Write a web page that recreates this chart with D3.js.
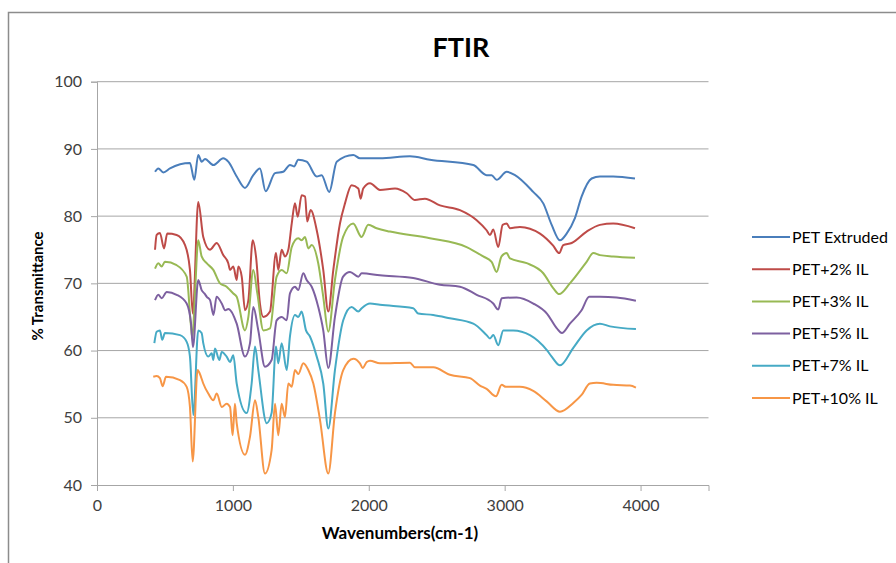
<!DOCTYPE html>
<html lang="en">
<head>
<meta charset="utf-8">
<title>FTIR</title>
<script src="https://cdn.jsdelivr.net/npm/d3@7/dist/d3.min.js"></script>
<style>
  body {
    margin: 0;
    padding: 0;
    background: #fff;
    overflow: hidden;
  }
  text {
    font-family: Lato, "Open Sans", sans-serif;
  }
  .grid line { stroke: #a6a6a6; stroke-width: 1px; }
  .spectrum { fill: none; stroke-width: 2px; stroke-linejoin: round; }
</style>
</head>
<body>
<script>
// [wavenumber, %T]
var petExtruded = [[427,86.6],[451,87.1],[488,86.5],[537,87.1],[684,87.9],[716,85.4],[745,89.1],[770,88.1],[795,88.5],[856,87.6],[929,88.6],[966,88.1],[1028,85.9],[1089,84.2],[1150,86.1],[1199,87.1],[1241,83.7],[1310,86.4],[1371,86.6],[1420,87.6],[1450,87.4],[1481,88.4],[1543,88.1],[1617,85.9],[1653,86.1],[1709,83.6],[1764,88.1],[1886,89.1],[1935,88.6],[2082,88.6],[2303,88.9],[2450,88.4],[2769,87.6],[2867,86.1],[2904,86.1],[2941,85.4],[3015,86.6],[3076,86.1],[3210,83.6],[3284,81.9],[3346,78.7],[3407,76.4],[3456,77.4],[3517,79.7],[3566,82.9],[3640,85.6],[3701,85.9],[3799,85.9],[3959,85.6]];

var pet2 = [[427,75.0],[439,77.2],[463,77.5],[493,75.2],[517,77.4],[586,77.2],[648,75.7],[684,72.0],[705,65.5],[745,82.1],[782,76.9],[831,75.0],[881,76.0],[929,74.2],[966,73.0],[979,72.0],[1003,72.5],[1028,70.5],[1040,72.5],[1065,71.0],[1089,66.0],[1114,67.5],[1146,76.4],[1170,74.0],[1199,67.0],[1224,65.0],[1273,65.8],[1317,74.5],[1334,72.0],[1359,75.0],[1383,74.0],[1408,75.0],[1433,78.9],[1457,81.9],[1477,79.9],[1506,83.1],[1531,82.9],[1547,79.2],[1572,80.9],[1617,77.9],[1665,72.0],[1702,65.8],[1739,72.0],[1788,78.9],[1825,81.9],[1874,84.6],[1923,84.1],[1940,82.6],[1959,84.1],[2009,84.9],[2082,83.9],[2193,84.1],[2279,83.4],[2340,82.4],[2413,82.6],[2524,81.6],[2671,80.9],[2794,79.4],[2867,77.9],[2892,77.2],[2916,78.0],[2953,75.4],[2985,78.7],[3015,78.9],[3039,78.2],[3112,78.4],[3260,77.4],[3357,75.6],[3401,74.5],[3431,75.7],[3493,76.0],[3603,77.7],[3701,78.7],[3799,78.9],[3959,78.2]];

var pet3 = [[427,72.2],[451,73.0],[476,72.5],[500,73.2],[586,72.7],[660,71.0],[690,64.0],[702,61.8],[720,68.0],[745,76.4],[770,74.0],[807,73.0],[856,72.0],[905,70.0],[954,69.5],[979,69.0],[1003,68.5],[1028,68.0],[1089,63.0],[1114,65.0],[1150,72.0],[1180,68.5],[1224,63.0],[1273,63.3],[1322,71.0],[1359,72.0],[1396,71.5],[1433,75.4],[1481,76.7],[1506,76.4],[1531,76.9],[1555,75.2],[1580,75.7],[1628,73.0],[1665,68.0],[1702,62.8],[1751,70.5],[1811,76.9],[1885,78.9],[1947,76.9],[1996,78.7],[2058,78.2],[2156,77.7],[2450,76.7],[2720,75.4],[2842,74.0],[2904,73.2],[2941,71.7],[2977,74.0],[3015,74.5],[3039,73.7],[3162,73.0],[3284,71.5],[3357,69.3],[3401,68.4],[3480,70.0],[3603,73.2],[3652,74.5],[3701,74.2],[3799,74.0],[3959,73.8]];

var pet5 = [[427,67.5],[451,68.3],[476,67.8],[513,68.7],[586,68.3],[660,67.0],[692,64.0],[706,60.5],[745,70.5],[770,69.0],[790,68.5],[808,68.0],[832,67.5],[857,65.3],[880,68.0],[918,67.0],[943,66.0],[967,66.2],[1028,64.0],[1089,59.1],[1126,61.1],[1150,66.5],[1187,63.0],[1236,57.6],[1285,58.6],[1322,64.5],[1359,65.0],[1396,64.5],[1420,68.5],[1457,69.5],[1481,69.0],[1518,71.5],[1543,70.5],[1580,69.5],[1628,66.5],[1665,63.0],[1702,57.4],[1751,65.0],[1811,71.0],[1862,71.7],[1923,71.0],[1948,71.5],[2082,71.2],[2327,70.8],[2524,69.8],[2671,69.5],[2794,68.3],[2916,67.0],[2953,66.1],[2978,67.8],[3088,67.9],[3211,67.0],[3311,65.5],[3384,63.3],[3421,62.6],[3480,64.0],[3566,66.0],[3622,68.0],[3701,68.0],[3824,67.9],[3966,67.4]];

var pet7 = [[422,61.1],[439,62.8],[463,63.0],[480,61.6],[500,62.6],[611,62.3],[660,61.3],[684,59.1],[709,50.4],[745,63.0],[770,62.6],[782,61.1],[819,59.1],[844,59.6],[856,58.6],[868,60.3],[900,58.6],[918,59.8],[954,59.1],[979,58.3],[1003,59.3],[1028,55.1],[1101,50.7],[1138,55.1],[1163,60.6],[1187,57.1],[1249,49.2],[1285,50.7],[1317,60.6],[1334,58.1],[1359,61.1],[1396,57.1],[1420,62.1],[1457,65.3],[1481,65.0],[1506,65.8],[1538,63.0],[1567,62.1],[1617,59.1],[1665,55.1],[1702,48.4],[1751,57.1],[1812,64.5],[1874,66.5],[1923,65.8],[1948,66.3],[2009,67.0],[2082,66.8],[2327,66.3],[2364,65.5],[2474,65.3],[2597,64.8],[2769,64.0],[2867,62.3],[2892,61.8],[2916,62.3],[2953,60.8],[2990,63.0],[3063,63.0],[3186,62.3],[3309,60.1],[3346,59.1],[3407,57.8],[3505,60.4],[3603,63.0],[3701,64.0],[3775,63.6],[3966,63.2]];

var pet10 = [[414,56.1],[439,56.2],[463,55.9],[483,54.7],[508,56.1],[611,55.6],[660,54.6],[684,51.6],[704,43.5],[740,57.1],[765,56.1],[782,55.1],[819,53.6],[856,52.6],[881,53.6],[918,51.6],[954,52.1],[979,51.6],[998,47.4],[1015,52.1],[1028,49.2],[1089,44.5],[1126,47.2],[1163,52.6],[1187,50.1],[1236,41.7],[1285,45.2],[1310,52.1],[1334,47.4],[1359,52.1],[1383,50.1],[1408,55.1],[1433,54.6],[1457,57.1],[1481,56.5],[1518,58.1],[1555,57.1],[1592,55.1],[1641,49.7],[1702,41.7],[1751,50.7],[1812,57.1],[1886,58.8],[1935,58.1],[1955,57.4],[1985,58.3],[2009,58.5],[2082,58.1],[2303,58.2],[2340,57.5],[2475,57.5],[2597,56.4],[2745,55.9],[2818,54.8],[2867,54.3],[2936,53.2],[2978,54.9],[3009,54.6],[3112,54.6],[3210,54.0],[3311,52.4],[3407,50.9],[3505,52.2],[3566,53.4],[3627,55.1],[3677,55.2],[3799,54.9],[3922,54.8],[3966,54.5]];

var seriesNames = ["PET Extruded", "PET+2% IL", "PET+3% IL", "PET+5% IL", "PET+7% IL", "PET+10% IL"];
var seriesData = [petExtruded, pet2, pet3, pet5, pet7, pet10];
var seriesColors = ["#4a7ebb", "#be4b48", "#98b954", "#7d60a0", "#46aac5", "#f79646"];
var xTicks = [0, 1000, 2000, 3000, 4000];
var yTicks = [40, 50, 60, 70, 80, 90, 100];

var svg = d3.select("body").append("svg")
  .attr("width", 896)
  .attr("height", 563);

// chart frame
svg.append("rect")
  .attr("x", 8.5).attr("y", 12.5)
  .attr("width", 1000).attr("height", 700)
  .attr("fill", "#fff")
  .attr("stroke", "#8c8c8c")
  .attr("stroke-width", 1.5);

var x = d3.scaleLinear().domain([0, 4500]).range([97, 708.5]);
var y = d3.scaleLinear().domain([40, 100]).range([485, 81.7]);

// gridlines
svg.append("g").attr("class", "grid")
  .selectAll("line").data(yTicks.slice(1)).enter().append("line")
  .attr("x1", x(0)).attr("x2", x(4500))
  .attr("y1", function(d) { return y(d); })
  .attr("y2", function(d) { return y(d); });

var yAxis = svg.append("g")
  .attr("transform", "translate(" + x(0) + ",0)")
  .call(d3.axisLeft(y).tickValues(yTicks).tickSize(6).tickPadding(9));
var xAxis = svg.append("g")
  .attr("transform", "translate(0," + y(40) + ")")
  .call(d3.axisBottom(x).tickValues(xTicks).tickSize(6).tickPadding(9).tickFormat(d3.format("d")));

[xAxis, yAxis].forEach(function(a) {
  a.select(".domain").attr("stroke", "#a6a6a6");
  a.selectAll(".tick line").attr("stroke", "#a6a6a6");
  a.selectAll(".tick text")
    .attr("fill", "#404040")
    .style("font-size", "16px")
    .style("font-family", "Lato, sans-serif");
});

var line = d3.line()
  .x(function(d) { return x(d[0]); })
  .y(function(d) { return y(d[1]); })
  .curve(d3.curveMonotoneX);

svg.append("g").selectAll("path")
  .data(seriesData).enter().append("path")
  .attr("class", "spectrum")
  .attr("stroke", function(d, i) { return seriesColors[i]; })
  .attr("d", line);

// title + axis titles
svg.append("text")
  .attr("x", 461).attr("y", 57)
  .attr("text-anchor", "middle")
  .style("font-size", "27px").style("font-weight", "bold")
  .attr("fill", "#000")
  .text("FTIR");

svg.append("text")
  .attr("x", 400).attr("y", 539)
  .attr("text-anchor", "middle")
  .style("font-size", "17px").style("font-weight", "bold")
  .attr("fill", "#000")
  .text("Wavenumbers(cm-1)");

svg.append("text")
  .attr("transform", "translate(43,286) rotate(-90)")
  .attr("text-anchor", "middle")
  .style("font-size", "15px").style("font-weight", "bold")
  .attr("fill", "#000")
  .text("% Transmittance");

// legend
var legend = svg.append("g").selectAll("g")
  .data(seriesNames).enter().append("g")
  .attr("transform", function(d, i) { return "translate(752," + (237 + i * 32.2) + ")"; });

legend.append("line")
  .attr("x1", 0).attr("x2", 38)
  .attr("stroke", function(d, i) { return seriesColors[i]; })
  .attr("stroke-width", 2);

legend.append("text")
  .attr("x", 40).attr("dy", "0.35em")
  .style("font-size", "16px")
  .attr("fill", "#000")
  .text(function(d) { return d; });
</script>
</body>
</html>
